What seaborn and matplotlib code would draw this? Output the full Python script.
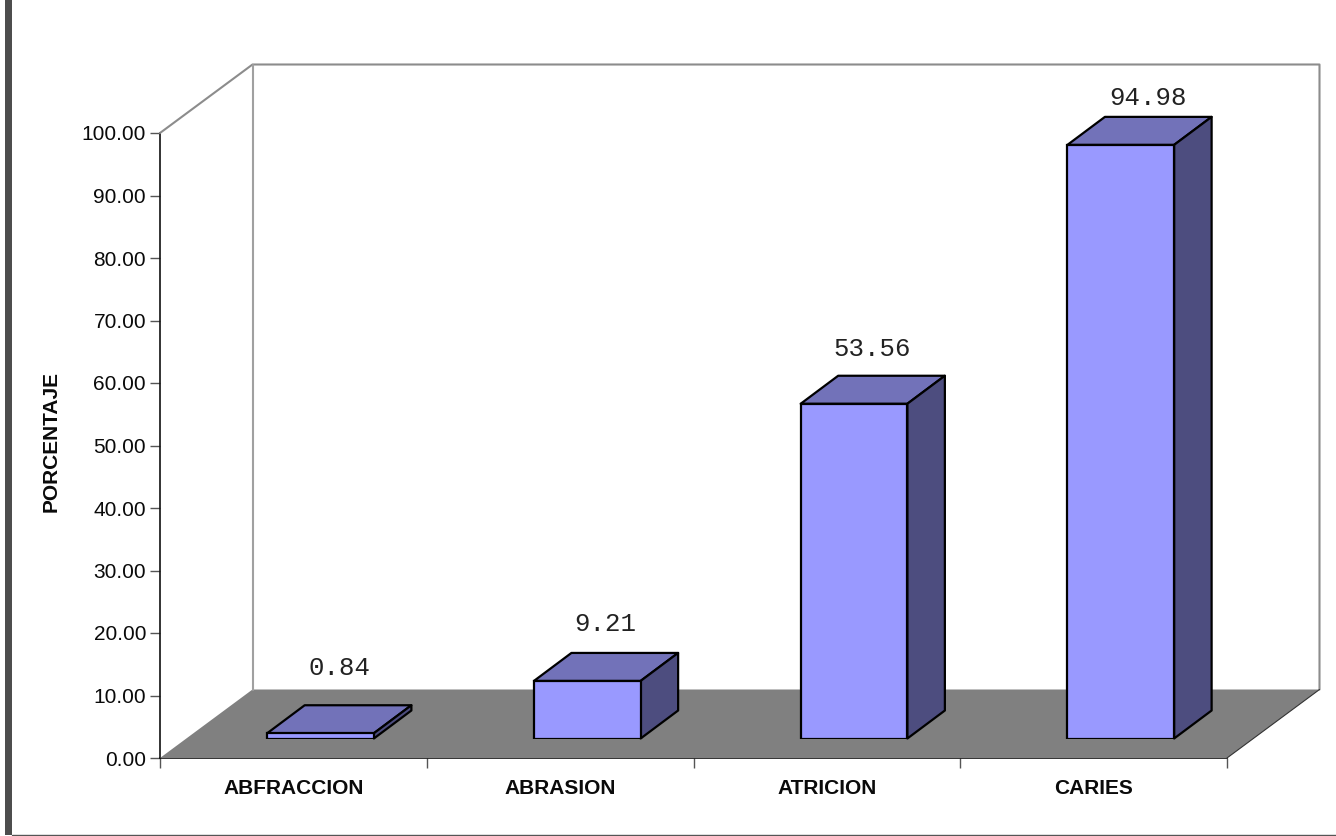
import matplotlib
matplotlib.use("Agg")
import matplotlib.pyplot as plt
import seaborn as sns
from matplotlib.lines import Line2D
from matplotlib.patches import Polygon, Rectangle
from matplotlib.transforms import IdentityTransform

# Values of the chart
categorias = ["ABFRACCION", "ABRASION", "ATRICION", "CARIES"]
porcentajes = [0.84, 9.21, 53.56, 94.98]
etiquetas = ["0.84", "9.21", "53.56", "94.98"]
marcas_y = [0, 10, 20, 30, 40, 50, 60, 70, 80, 90, 100]

# Pixel offset of each value label from the top front edge of its bar
desplaz_etiquetas = [(19, 65), (18, 57), (18, 55), (27, 47)]

W, H = 1336, 836
DPI = 100

FRENTE = "#9999FF"
TAPA = "#7272B9"
LADO = "#4D4D7F"
PISO = "#808080"
PARED = "#8C8C8C"
BORDE = "#000000"
TEXTO = "#0A0A0A"
TAM_EJES = 15


def caja(izq, arr, der, aba):
    """Axes rectangle from pixel edges measured from the top-left corner."""
    return [izq / W, 1 - aba / H, (der - izq) / W, (aba - arr) / H]


sns.set_theme(style="white", rc={"axes.facecolor": "none", "figure.facecolor": "white"})
plt.rcParams["font.family"] = ["Liberation Sans", "DejaVu Sans"]

fig = plt.figure(figsize=(W / DPI, H / DPI), dpi=DPI)

# Page frame: heavy rule on the left, thin rule at the bottom
fig.add_artist(Rectangle((5, 0.5 + H - 835), 7, 835, transform=IdentityTransform(),
                         facecolor="#4D4D4D", edgecolor="none"))
fig.add_artist(Line2D([12, W], [H - 834.5, H - 834.5], transform=IdentityTransform(),
                      color="#555555", lw=1.0))

# Front plane carrying the axes, floor and walls
eje = fig.add_axes(caja(160, 133, 1227, 758))
eje.set_xlim(-0.5, 3.5)
eje.set_ylim(0, 100)

FONDO_X, FONDO_Y = 92.5, 68.5


def px(ax, x, y, prof=(0, 0)):
    xd, yd = ax.transData.transform((x, y))
    return (xd + prof[0], yd + prof[1])


fondo = (FONDO_X, FONDO_Y)
piso = [px(eje, -0.5, 0), px(eje, 3.5, 0), px(eje, 3.5, 0, fondo), px(eje, -0.5, 0, fondo)]
fig.add_artist(Polygon(piso, closed=True, transform=IdentityTransform(),
                       facecolor=PISO, edgecolor="none", zorder=0.5))

# Walls: top-left diagonal, back rectangle
pared = [px(eje, -0.5, 100), px(eje, -0.5, 100, fondo), px(eje, 3.5, 100, fondo), px(eje, 3.5, 0, fondo)]
fig.add_artist(Line2D([p[0] for p in pared], [p[1] for p in pared],
                      transform=IdentityTransform(), color=PARED, lw=1.5, zorder=0.6))
esquina = [px(eje, -0.5, 0, fondo), px(eje, -0.5, 100, fondo)]
fig.add_artist(Line2D([p[0] for p in esquina], [p[1] for p in esquina],
                      transform=IdentityTransform(), color="#A0A0A0", lw=1.5, zorder=0.6))
diagonal = [px(eje, 3.5, 0), px(eje, 3.5, 0, fondo)]
fig.add_artist(Line2D([p[0] for p in diagonal], [p[1] for p in diagonal],
                      transform=IdentityTransform(), color="#333333", lw=0.8, zorder=0.6))

for lado in ("top", "right"):
    eje.spines[lado].set_visible(False)
for lado in ("left", "bottom"):
    eje.spines[lado].set_visible(True)
    eje.spines[lado].set_color("#111111")
    eje.spines[lado].set_linewidth(1.2)

eje.set_yticks(marcas_y)
eje.set_yticklabels([f"{v:.2f}" for v in marcas_y])
eje.tick_params(axis="y", left=True, length=7, width=1.0, color="#555555",
                pad=3, labelsize=TAM_EJES, labelcolor=TEXTO)
eje.set_xticks([-0.5, 0.5, 1.5, 2.5, 3.5])
eje.set_xticklabels([])
eje.tick_params(axis="x", which="major", bottom=True, length=7, width=1.0, color="#555555")
eje.set_xticks(range(len(categorias)), labels=categorias, minor=True)
eje.tick_params(axis="x", which="minor", bottom=False, length=0, pad=15, labelsize=TAM_EJES,
                labelcolor=TEXTO)
for texto in eje.get_xticklabels(minor=True):
    texto.set_fontweight("bold")

fig.text(51 / W, 1 - 442 / H, "PORCENTAJE", rotation=90, ha="center", va="center",
         fontsize=TAM_EJES, fontweight="bold", color=TEXTO)

# Plane of the bars, set back from the front plane
barras = fig.add_axes(caja(187.15, 113.5, 1254.15, 738.5))
barras.set_zorder(2)
sns.barplot(x=categorias, y=porcentajes, ax=barras, width=0.40, color=FRENTE, saturation=1,
            edgecolor=BORDE, linewidth=1.6, zorder=3)
barras.set_xlim(-0.5, 3.5)
barras.set_ylim(0, 100)
barras.axis("off")

PROF_X, PROF_Y = 37.5, 28
prof = (PROF_X, PROF_Y)
for barra, texto, despl in zip(barras.patches, etiquetas, desplaz_etiquetas):
    x0, x1 = barra.get_x(), barra.get_x() + barra.get_width()
    alto = barra.get_height()
    tapa = [px(barras, x0, alto), px(barras, x1, alto),
            px(barras, x1, alto, prof), px(barras, x0, alto, prof)]
    lado = [px(barras, x1, 0), px(barras, x1, alto),
            px(barras, x1, alto, prof), px(barras, x1, 0, prof)]
    for puntos, color in ((tapa, TAPA), (lado, LADO)):
        barras.add_patch(Polygon(puntos, closed=True, transform=IdentityTransform(),
                                 facecolor=color, edgecolor=BORDE, linewidth=1.6,
                                 joinstyle="round", zorder=2.5, clip_on=False))
    barras.annotate(texto, xy=((x0 + x1) / 2, alto), xycoords="data",
                    xytext=(despl[0] * 72 / DPI, despl[1] * 72 / DPI), textcoords="offset points",
                    ha="center", va="center", fontsize=18.5, color="#222222",
                    family="Liberation Mono", annotation_clip=False)

fig.savefig("out.png", dpi=DPI, facecolor="white")
